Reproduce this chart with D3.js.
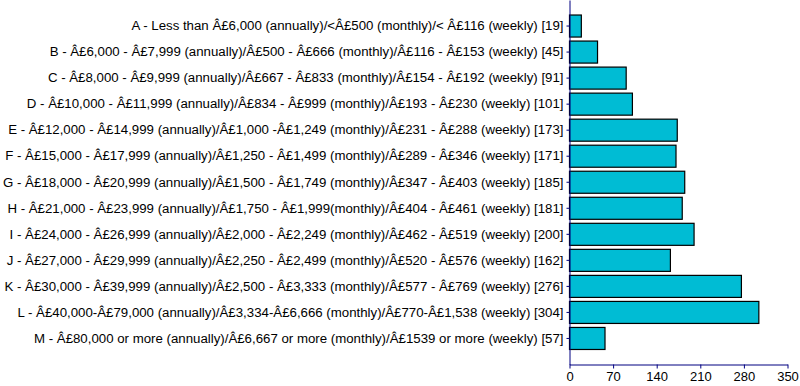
<!DOCTYPE html>
<html>
<head>
<meta charset="utf-8">
<script src="https://cdn.jsdelivr.net/npm/d3@7"></script>
<style>
  body { margin: 0; background: #fff; }
  svg { display: block; font-family: "Liberation Sans", Arial, sans-serif; }
</style>
</head>
<body>
<script>
// categories as they appear in the source (with the mis-encoded pound sign)
const categories = [
    "A - Less than Â£6,000 (annually)/<Â£500 (monthly)/< Â£116 (weekly) [19]",
    "B - Â£6,000 - Â£7,999 (annually)/Â£500 - Â£666 (monthly)/Â£116 - Â£153 (weekly) [45]",
    "C - Â£8,000 - Â£9,999 (annually)/Â£667 - Â£833 (monthly)/Â£154 - Â£192 (weekly) [91]",
    "D - Â£10,000 - Â£11,999 (annually)/Â£834 - Â£999 (monthly)/Â£193 - Â£230 (weekly) [101]",
    "E - Â£12,000 - Â£14,999 (annually)/Â£1,000 -Â£1,249 (monthly)/Â£231 - Â£288 (weekly) [173]",
    "F - Â£15,000 - Â£17,999 (annually)/Â£1,250 - Â£1,499 (monthly)/Â£289 - Â£346 (weekly) [171]",
    "G - Â£18,000 - Â£20,999 (annually)/Â£1,500 - Â£1,749 (monthly)/Â£347 - Â£403 (weekly) [185]",
    "H - Â£21,000 - Â£23,999 (annually)/Â£1,750 - Â£1,999(monthly)/Â£404 - Â£461 (weekly) [181]",
    "I - Â£24,000 - Â£26,999 (annually)/Â£2,000 - Â£2,249 (monthly)/Â£462 - Â£519 (weekly) [200]",
    "J - Â£27,000 - Â£29,999 (annually)/Â£2,250 - Â£2,499 (monthly)/Â£520 - Â£576 (weekly) [162]",
    "K - Â£30,000 - Â£39,999 (annually)/Â£2,500 - Â£3,333 (monthly)/Â£577 - Â£769 (weekly) [276]",
    "L - Â£40,000-Â£79,000 (annually)/Â£3,334-Â£6,666 (monthly)/Â£770-Â£1,538 (weekly) [304]",
    "M - Â£80,000 or more (annually)/Â£6,667 or more (monthly)/Â£1539 or more (weekly) [57]"
];
const counts = [19, 45, 91, 101, 173, 171, 185, 181, 200, 162, 276, 304, 57];
const xTicks = [0, 70, 140, 210, 280, 350];

const width = 800, height = 386;
const axisColour = "#000080";
const barColour = "#00bcd4";

const svg = d3.select("body").append("svg")
    .attr("width", width)
    .attr("height", height);

// plot area
const plotLeft = 569.5, plotRight = 787.5, plotTop = 0, plotBottom = 364.5;

const x = d3.scaleLinear().domain([0, 350]).range([plotLeft, plotRight]);

// step 26, bar 22
const pIn = 4 / 26;
const y = d3.scaleBand()
    .domain(categories)
    .range([plotTop, plotBottom])
    .paddingInner(pIn)
    .paddingOuter((1 + pIn) / 2);

// bars
svg.append("g")
    .selectAll("rect")
    .data(categories)
    .join("rect")
    .attr("x", x(0))
    .attr("y", d => y(d))
    .attr("width", (d, i) => x(counts[i]) - x(0))
    .attr("height", y.bandwidth())
    .attr("fill", barColour)
    .attr("stroke", "#000")
    .attr("stroke-width", 1.2);

// y axis
const yAxis = svg.append("g")
    .attr("transform", `translate(${plotLeft},0)`)
    .call(d3.axisLeft(y).tickSize(3).tickPadding(3).tickSizeOuter(0));
yAxis.select(".domain").attr("stroke", axisColour);
yAxis.selectAll(".tick line").attr("stroke", axisColour);
yAxis.selectAll(".tick text")
    .attr("fill", "#000")
    .style("font-size", "13.25px")
    .style("font-family", "'Liberation Sans', Arial, sans-serif");

// x axis
const xAxis = svg.append("g")
    .attr("transform", `translate(0,${plotBottom})`)
    .call(d3.axisBottom(x).tickValues(xTicks).tickSize(4).tickPadding(3).tickSizeOuter(0));
xAxis.select(".domain").attr("stroke", axisColour);
xAxis.selectAll(".tick line").attr("stroke", axisColour);
xAxis.selectAll(".tick text")
    .attr("fill", "#000")
    .style("font-size", "13px")
    .style("font-family", "'Liberation Sans', Arial, sans-serif");
</script>
</body>
</html>
